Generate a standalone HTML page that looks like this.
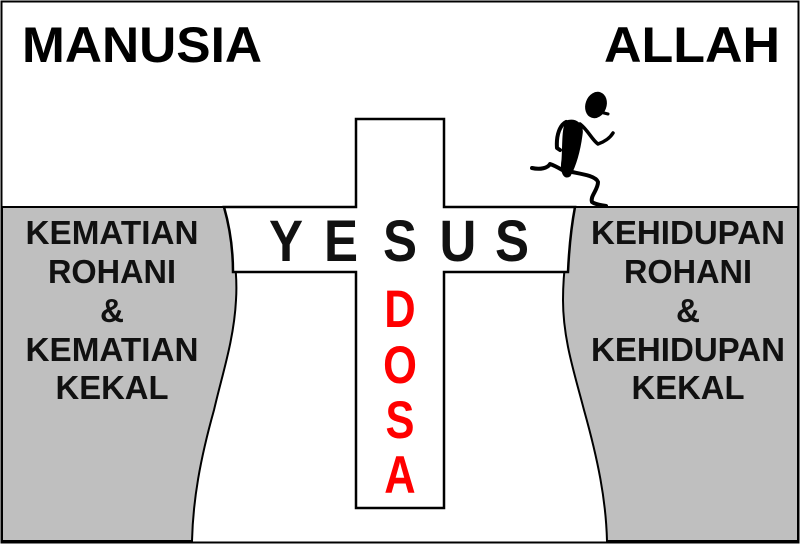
<!DOCTYPE html>
<html><head><meta charset="utf-8"><style>
html,body{margin:0;padding:0;background:#fff}
svg{display:block}
text{font-family:"Liberation Sans",Arial,sans-serif;font-weight:bold}
</style></head><body>
<svg width="800" height="544" viewBox="0 0 800 544" xmlns="http://www.w3.org/2000/svg">
<rect x="0" y="0" width="800" height="544" fill="#fff"/>
<path d="M2,207 L224,207 C232,235 238,270 236,300 C234,340 222,375 214,410 C200,460 193,500 192,541 L2,541 Z" fill="#bfbfbf" stroke="#000" stroke-width="2"/>
<path d="M798,207 L575,207 C568,235 563,270 563,300 C563,340 575,375 584,410 C598,460 606,500 607,541 L798,541 Z" fill="#bfbfbf" stroke="#000" stroke-width="2"/>
<path d="M356,119 L444,119 L444,207 L575,207 C571,228 569,250 568,272 L444,272 L444,508 L356,508 L356,272 L233,272 C233,250 230,228 224,207 L356,207 Z" fill="#fff" stroke="#000" stroke-width="2.5"/>
<rect x="1.5" y="1.5" width="797" height="541" fill="none" stroke="#000" stroke-width="2"/>
<text x="22" y="62" font-size="50" textLength="240" lengthAdjust="spacingAndGlyphs">MANUSIA</text>
<text x="604" y="62" font-size="50" textLength="176" lengthAdjust="spacingAndGlyphs">ALLAH</text>
<g font-size="58" fill="#111" text-anchor="middle">
<text x="286" y="261" transform="translate(286 0) scale(0.88 1) translate(-286 0)">Y</text>
<text x="341" y="261" transform="translate(341 0) scale(0.88 1) translate(-341 0)">E</text>
<text x="400" y="261" transform="translate(400 0) scale(0.88 1) translate(-400 0)">S</text>
<text x="458" y="261" transform="translate(458 0) scale(0.88 1) translate(-458 0)">U</text>
<text x="512" y="261" transform="translate(512 0) scale(0.88 1) translate(-512 0)">S</text>
</g>
<g font-size="53" fill="#f00" text-anchor="middle">
<text x="400" y="327" transform="translate(400 0) scale(0.82 1) translate(-400 0)">D</text>
<text x="400" y="383" transform="translate(400 0) scale(0.82 1) translate(-400 0)">O</text>
<text x="400" y="438" transform="translate(400 0) scale(0.82 1) translate(-400 0)">S</text>
<text x="400" y="493" transform="translate(400 0) scale(0.82 1) translate(-400 0)">A</text>
</g>
<g font-size="33" fill="#111" text-anchor="middle">
<text x="112" y="244" textLength="173" lengthAdjust="spacingAndGlyphs">KEMATIAN</text>
<text x="112" y="283" textLength="128" lengthAdjust="spacingAndGlyphs">ROHANI</text>
<text x="112" y="322" textLength="24" lengthAdjust="spacingAndGlyphs">&amp;</text>
<text x="112" y="361" textLength="173" lengthAdjust="spacingAndGlyphs">KEMATIAN</text>
<text x="112" y="399" textLength="113" lengthAdjust="spacingAndGlyphs">KEKAL</text>
<text x="688" y="244" textLength="194" lengthAdjust="spacingAndGlyphs">KEHIDUPAN</text>
<text x="688" y="283" textLength="128" lengthAdjust="spacingAndGlyphs">ROHANI</text>
<text x="688" y="322" textLength="24" lengthAdjust="spacingAndGlyphs">&amp;</text>
<text x="688" y="361" textLength="194" lengthAdjust="spacingAndGlyphs">KEHIDUPAN</text>
<text x="688" y="399" textLength="113" lengthAdjust="spacingAndGlyphs">KEKAL</text>
</g>
<g fill="#000" stroke="#000" stroke-linecap="round" stroke-linejoin="round">
<ellipse cx="596" cy="105" rx="10" ry="13" transform="rotate(20 596 105)"/>
<path d="M600,112 L608,114" stroke-width="3" fill="none"/>
<path d="M566,121 C576,118 584,124 582,135 C580,150 576,165 570,176 C564,180 560,172 562,160 C563,145 562,130 566,121 Z"/>
<path d="M566,122 C560,125 556,135 557,148 L560,150" stroke-width="4" fill="none"/>
<path d="M580,124 C588,130 592,140 598,144 C604,142 610,138 613,133" stroke-width="3.5" fill="none"/>
<path d="M566,172 C562,170 556,166 550,164 C548,168 540,170 532,168" stroke-width="4" fill="none"/>
<path d="M572,172 C582,174 596,176 598,182 C598,190 590,196 592,202 C596,205 602,205 606,206" stroke-width="4" fill="none"/>
</g>
</svg>
</body></html>
